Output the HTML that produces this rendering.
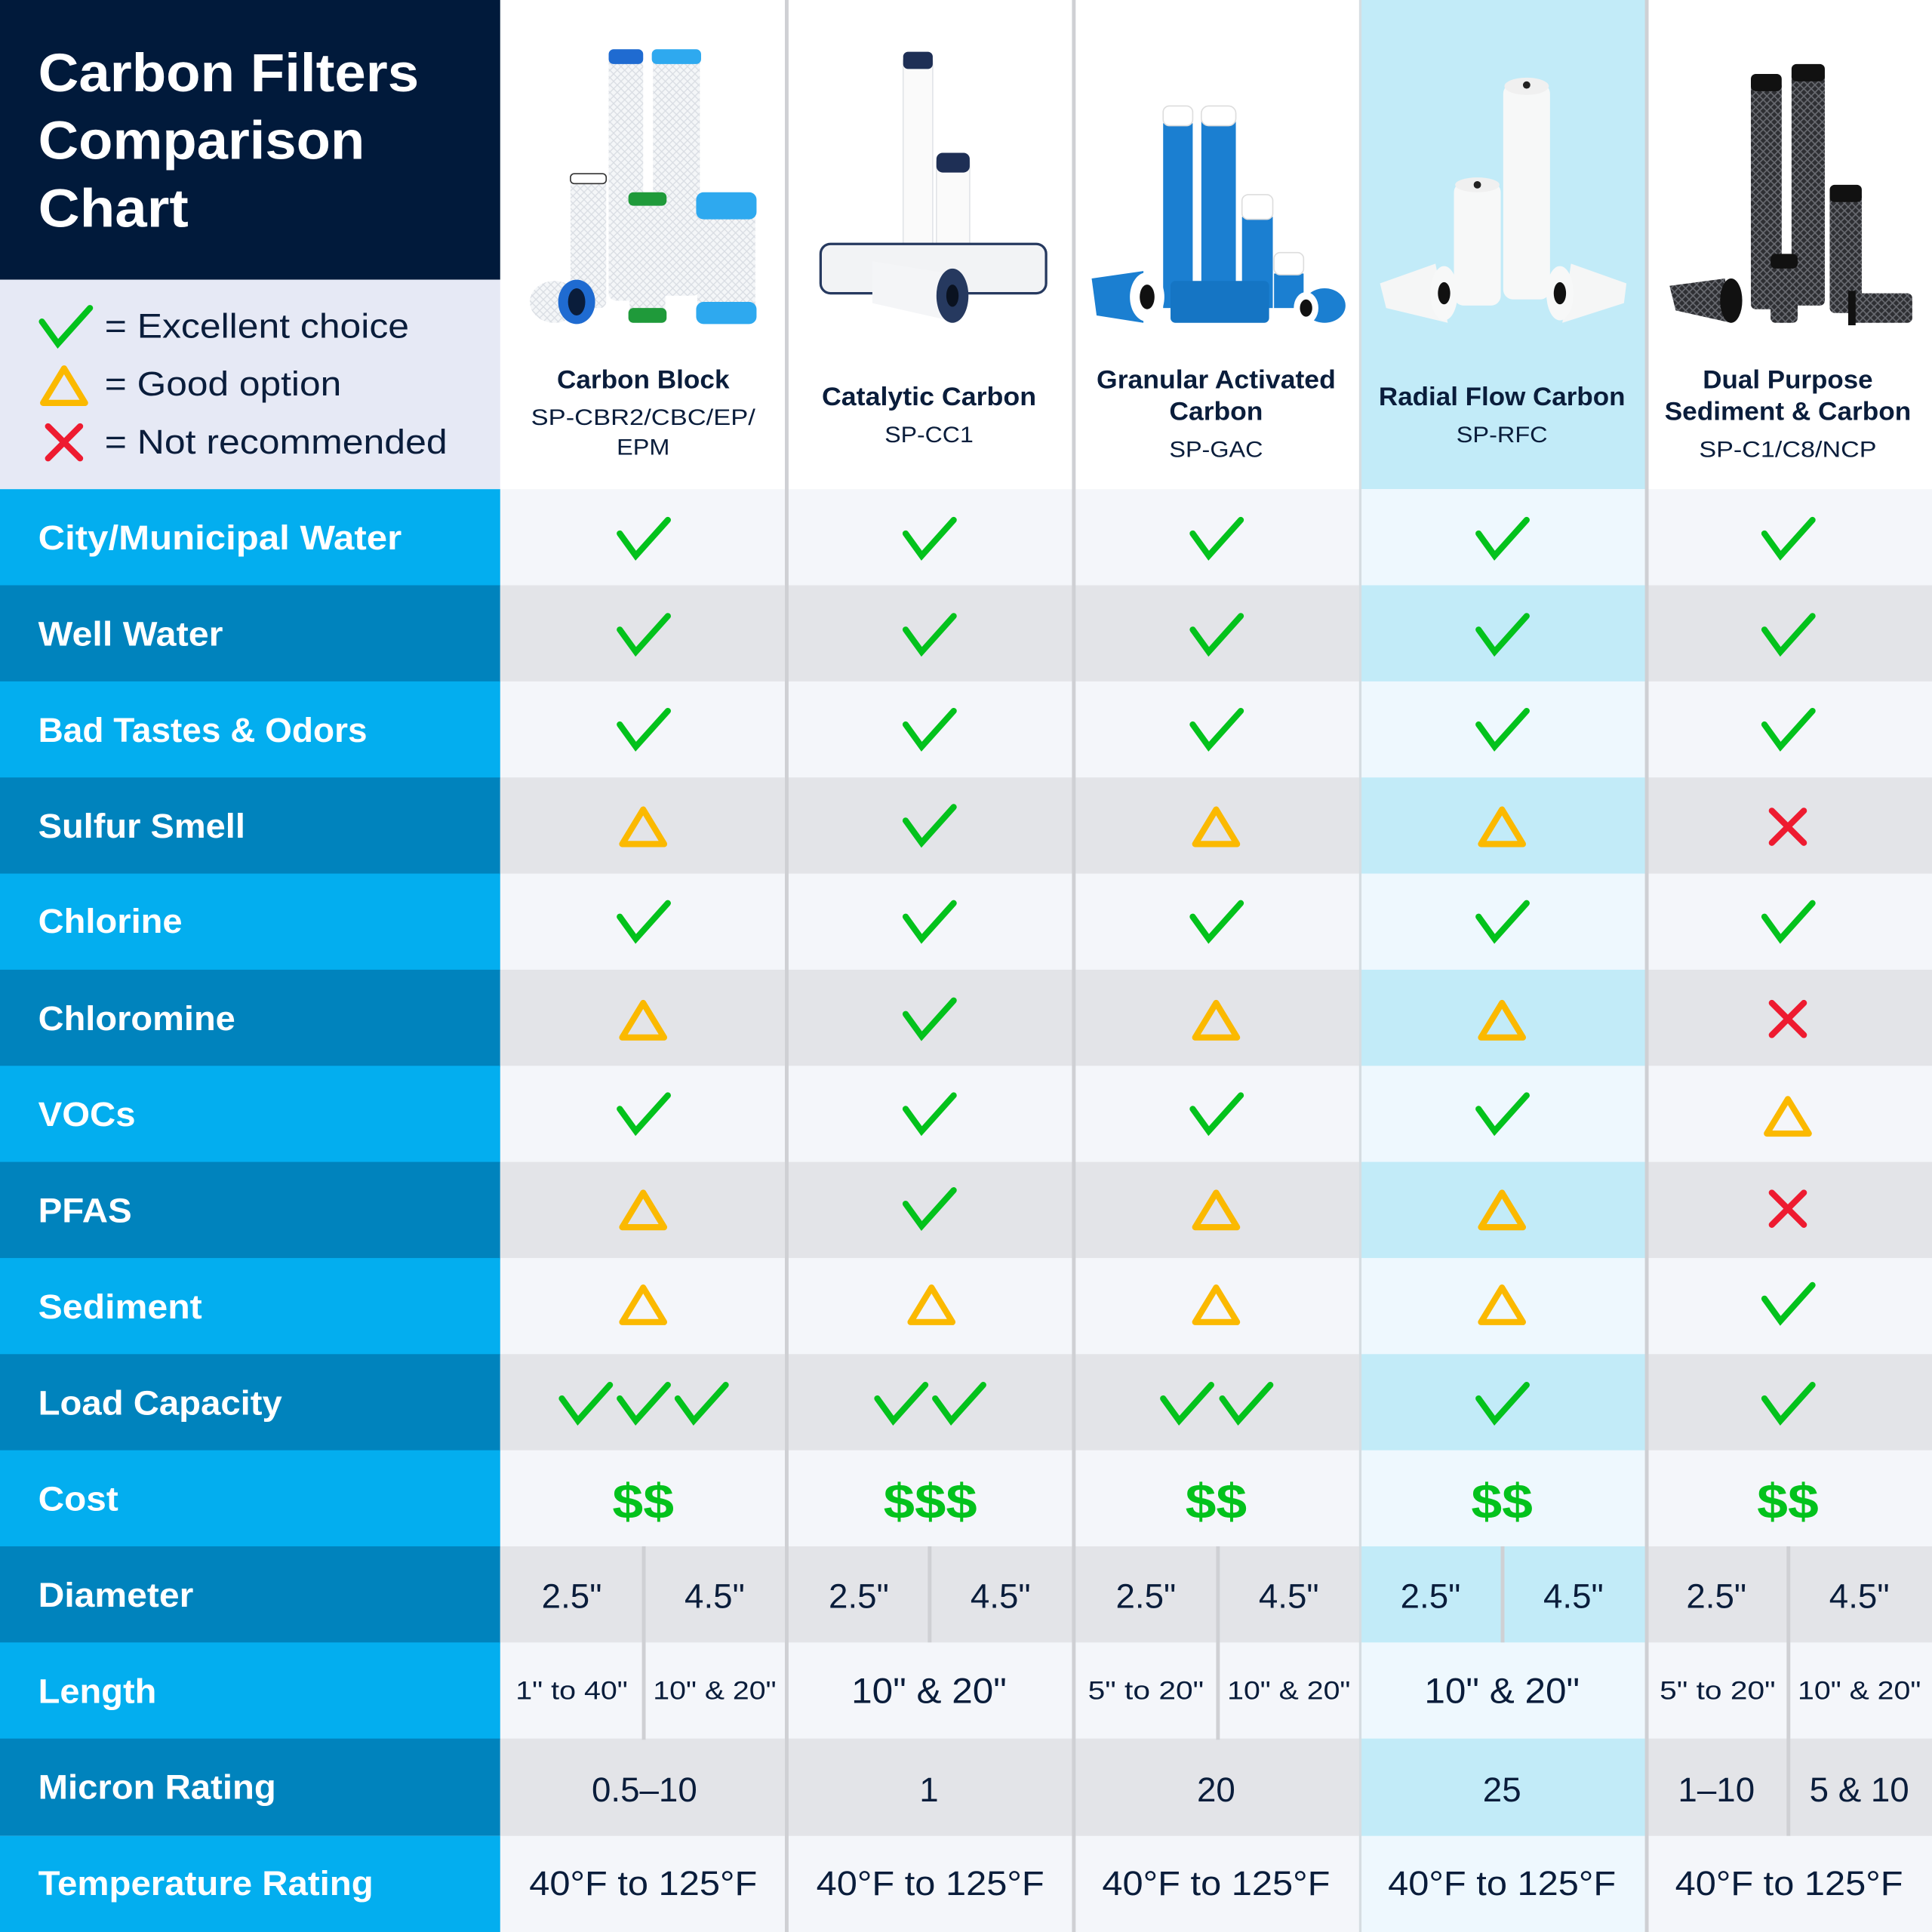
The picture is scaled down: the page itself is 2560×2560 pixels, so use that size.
<!DOCTYPE html>
<html><head><meta charset="utf-8"><style>
html,body{margin:0;padding:0;background:#fff}
svg{display:block}
text{font-family:"Liberation Sans",Arial,sans-serif}
</style></head><body>
<svg width="2560" height="2560" viewBox="0 0 1568 1568" xmlns="http://www.w3.org/2000/svg">
<defs>
<g id="ck"><path d="M-19,-4 L-6,14 L20,-15" fill="none" stroke="#03c21c" stroke-width="5" stroke-linecap="round" stroke-linejoin="miter"/></g>
<g id="tr"><path d="M0,-14 L17,14 L-17,14 Z" fill="none" stroke="#fbb900" stroke-width="5" stroke-linejoin="round"/></g>
<g id="xx"><path d="M-13,-13 L13,13 M13,-13 L-13,13" fill="none" stroke="#ee1b30" stroke-width="5" stroke-linecap="round"/></g>
<pattern id="mesh" width="6" height="6" patternUnits="userSpaceOnUse"><rect width="6" height="6" fill="#2e2f33"/><path d="M0,0 L6,6 M6,0 L0,6" stroke="#6a6c72" stroke-width="1"/></pattern>
<pattern id="wmesh" width="6" height="6" patternUnits="userSpaceOnUse"><rect width="6" height="6" fill="#f4f6f8"/><path d="M0,0 L6,6 M6,0 L0,6" stroke="#d9dde3" stroke-width="0.8"/></pattern>
</defs>

<!-- header -->
<rect x="0" y="0" width="406" height="227" fill="#011a3b"/>
<rect x="0" y="227" width="406" height="170" fill="#e6e9f5"/>
<rect x="406" y="0" width="1162" height="397" fill="#ffffff"/>
<rect x="1104" y="0" width="232" height="397" fill="#c2ebf8"/>
<g fill="#ffffff" font-weight="bold" font-size="44">
<text x="31" y="74" textLength="309" lengthAdjust="spacingAndGlyphs">Carbon Filters</text>
<text x="31" y="129" textLength="265" lengthAdjust="spacingAndGlyphs">Comparison</text>
<text x="31" y="184" textLength="122" lengthAdjust="spacingAndGlyphs">Chart</text>
</g>
<use href="#ck" x="53" y="265"/>
<use href="#tr" x="52" y="313"/>
<use href="#xx" x="52" y="359"/>
<g fill="#0a1d3b" font-size="28">
<text x="85" y="274" textLength="247" lengthAdjust="spacingAndGlyphs">= Excellent choice</text>
<text x="85" y="321" textLength="192" lengthAdjust="spacingAndGlyphs">= Good option</text>
<text x="85" y="368" textLength="278" lengthAdjust="spacingAndGlyphs">= Not recommended</text>
</g>

<!-- column headers -->
<g fill="#0a1d3b" text-anchor="middle">
<g font-weight="bold" font-size="21">
<text x="522" y="315" textLength="140" lengthAdjust="spacingAndGlyphs">Carbon Block</text>
<text x="754" y="329" textLength="174" lengthAdjust="spacingAndGlyphs">Catalytic Carbon</text>
<text x="987" y="315" textLength="194" lengthAdjust="spacingAndGlyphs">Granular Activated</text>
<text x="987" y="341" textLength="76" lengthAdjust="spacingAndGlyphs">Carbon</text>
<text x="1219" y="329" textLength="200" lengthAdjust="spacingAndGlyphs">Radial Flow Carbon</text>
<text x="1451" y="315" textLength="138" lengthAdjust="spacingAndGlyphs">Dual Purpose</text>
<text x="1451" y="341" textLength="200" lengthAdjust="spacingAndGlyphs">Sediment &amp; Carbon</text>
</g>
<g font-size="18">
<text x="522" y="345" textLength="182" lengthAdjust="spacingAndGlyphs">SP-CBR2/CBC/EP/</text>
<text x="522" y="369" textLength="43" lengthAdjust="spacingAndGlyphs">EPM</text>
<text x="754" y="359" textLength="72" lengthAdjust="spacingAndGlyphs">SP-CC1</text>
<text x="987" y="371" textLength="76" lengthAdjust="spacingAndGlyphs">SP-GAC</text>
<text x="1219" y="359" textLength="74" lengthAdjust="spacingAndGlyphs">SP-RFC</text>
<text x="1451" y="371" textLength="144" lengthAdjust="spacingAndGlyphs">SP-C1/C8/NCP</text>
</g>
</g>

<!-- filter illustrations -->
<!-- col1 -->
<g>
<rect x="494" y="44" width="28" height="200" rx="6" fill="url(#wmesh)"/><rect x="494" y="40" width="28" height="12" rx="4" fill="#1f6bd1"/>
<rect x="530" y="44" width="38" height="196" rx="6" fill="url(#wmesh)"/><rect x="529" y="40" width="40" height="12" rx="4" fill="#2ea9ef"/>
<rect x="463" y="145" width="29" height="105" rx="5" fill="url(#wmesh)"/><rect x="463" y="141" width="29" height="8" rx="3" fill="#fff" stroke="#333" stroke-width="1"/>
<rect x="511" y="160" width="29" height="102" rx="5" fill="url(#wmesh)"/><rect x="510" y="156" width="31" height="11" rx="4" fill="#1f9a3a"/><rect x="510" y="250" width="31" height="12" rx="4" fill="#1f9a3a"/>
<rect x="566" y="160" width="47" height="102" rx="6" fill="url(#wmesh)"/><rect x="565" y="156" width="49" height="22" rx="6" fill="#2ea9ef"/><rect x="565" y="245" width="49" height="18" rx="6" fill="#2ea9ef"/>
<ellipse cx="450" cy="245" rx="20" ry="17" fill="url(#wmesh)"/><ellipse cx="468" cy="245" rx="15" ry="18" fill="#1f6bd1"/><ellipse cx="468" cy="245" rx="7" ry="11" fill="#0a1d3b"/>
</g>
<!-- col2 -->
<g>
<rect x="733" y="46" width="24" height="160" rx="4" fill="#fafafa" stroke="#e2e4e8"/><rect x="733" y="42" width="24" height="14" rx="4" fill="#1e2f55"/>
<rect x="760" y="128" width="27" height="80" rx="4" fill="#fafafa" stroke="#e2e4e8"/><rect x="760" y="124" width="27" height="16" rx="5" fill="#1e2f55"/>
<rect x="666" y="198" width="183" height="40" rx="8" fill="#f2f3f5" stroke="#26395f" stroke-width="2"/>
<path d="M708,212 L770,222 L770,260 L708,246 Z" fill="#f4f5f7"/><ellipse cx="773" cy="240" rx="13" ry="22" fill="#26395f"/><ellipse cx="773" cy="240" rx="5" ry="9" fill="#0a1220"/>
</g>
<!-- col3 -->
<g>
<rect x="944" y="100" width="24" height="150" fill="#1b7fd1"/><rect x="944" y="86" width="24" height="16" rx="5" fill="#fff" stroke="#ddd"/>
<rect x="975" y="98" width="28" height="152" fill="#1b7fd1"/><rect x="975" y="86" width="28" height="16" rx="6" fill="#fff" stroke="#ddd"/>
<rect x="1008" y="176" width="25" height="74" fill="#1b7fd1"/><rect x="1008" y="158" width="25" height="20" rx="5" fill="#fff" stroke="#ddd"/>
<rect x="1034" y="222" width="24" height="28" fill="#1b7fd1"/><rect x="1034" y="205" width="24" height="18" rx="5" fill="#fff" stroke="#ddd"/>
<rect x="950" y="228" width="80" height="34" rx="4" fill="#1575c4"/>
<path d="M886,226 L928,220 L928,262 L890,256 Z" fill="#1b7fd1"/><ellipse cx="931" cy="241" rx="14" ry="20" fill="#fff"/><ellipse cx="931" cy="241" rx="6" ry="10" fill="#111"/>
<ellipse cx="1075" cy="248" rx="17" ry="14" fill="#1b7fd1"/><ellipse cx="1060" cy="250" rx="10" ry="13" fill="#fff"/><ellipse cx="1060" cy="250" rx="5" ry="7" fill="#111"/>
</g>
<!-- col4 -->
<g>
<rect x="1220" y="68" width="38" height="175" rx="8" fill="#f7f8f8"/><ellipse cx="1239" cy="70" rx="18" ry="7" fill="#f0f0f0"/><circle cx="1239" cy="69" r="3" fill="#222"/>
<rect x="1180" y="148" width="38" height="100" rx="8" fill="#f7f8f8"/><ellipse cx="1199" cy="150" rx="18" ry="6" fill="#f0f0f0"/><circle cx="1199" cy="150" r="3" fill="#222"/>
<path d="M1120,230 L1165,214 L1175,262 L1125,250 Z" fill="#f5f6f6"/><ellipse cx="1172" cy="238" rx="11" ry="22" fill="#f7f8f8"/><ellipse cx="1172" cy="238" rx="5" ry="9" fill="#111"/>
<path d="M1320,230 L1275,214 L1268,262 L1318,246 Z" fill="#f5f6f6"/><ellipse cx="1266" cy="238" rx="11" ry="22" fill="#f7f8f8"/><ellipse cx="1266" cy="238" rx="5" ry="9" fill="#111"/>
</g>
<!-- col5 -->
<g>
<rect x="1421" y="66" width="25" height="185" rx="4" fill="url(#mesh)"/><rect x="1421" y="60" width="25" height="14" rx="4" fill="#111"/>
<rect x="1454" y="58" width="27" height="190" rx="4" fill="url(#mesh)"/><rect x="1454" y="52" width="27" height="14" rx="4" fill="#111"/>
<rect x="1485" y="156" width="26" height="98" rx="4" fill="url(#mesh)"/><rect x="1485" y="150" width="26" height="14" rx="4" fill="#111"/>
<rect x="1437" y="212" width="22" height="50" rx="4" fill="url(#mesh)"/><rect x="1437" y="206" width="22" height="12" rx="4" fill="#111"/>
<path d="M1355,232 L1400,226 L1405,262 L1360,252 Z" fill="url(#mesh)"/><ellipse cx="1405" cy="244" rx="9" ry="18" fill="#111"/>
<rect x="1502" y="238" width="50" height="24" rx="4" fill="url(#mesh)"/><rect x="1500" y="236" width="6" height="28" fill="#111"/>
</g>

<!-- row backgrounds -->
<g id="rows">
<rect x="0" y="397" width="406" height="79" fill="#03aeef"/>
<rect x="0" y="475" width="406" height="79" fill="#0083bd"/>
<rect x="0" y="553" width="406" height="79" fill="#03aeef"/>
<rect x="0" y="631" width="406" height="79" fill="#0083bd"/>
<rect x="0" y="709" width="406" height="79" fill="#03aeef"/>
<rect x="0" y="787" width="406" height="79" fill="#0083bd"/>
<rect x="0" y="865" width="406" height="79" fill="#03aeef"/>
<rect x="0" y="943" width="406" height="79" fill="#0083bd"/>
<rect x="0" y="1021" width="406" height="79" fill="#03aeef"/>
<rect x="0" y="1099" width="406" height="79" fill="#0083bd"/>
<rect x="0" y="1177" width="406" height="79" fill="#03aeef"/>
<rect x="0" y="1255" width="406" height="79" fill="#0083bd"/>
<rect x="0" y="1333" width="406" height="79" fill="#03aeef"/>
<rect x="0" y="1411" width="406" height="79" fill="#0083bd"/>
<rect x="0" y="1490" width="406" height="78" fill="#03aeef"/>

<rect x="406" y="397" width="1162" height="1171" fill="#f4f6fa"/>
<rect x="406" y="475" width="1162" height="78" fill="#e3e4e8"/>
<rect x="406" y="631" width="1162" height="78" fill="#e3e4e8"/>
<rect x="406" y="787" width="1162" height="78" fill="#e3e4e8"/>
<rect x="406" y="943" width="1162" height="78" fill="#e3e4e8"/>
<rect x="406" y="1099" width="1162" height="78" fill="#e3e4e8"/>
<rect x="406" y="1255" width="1162" height="78" fill="#e3e4e8"/>
<rect x="406" y="1411" width="1162" height="79" fill="#e3e4e8"/>

<rect x="1104" y="397" width="232" height="1171" fill="#eef8fe"/>
<rect x="1104" y="475" width="232" height="78" fill="#c2ebf8"/>
<rect x="1104" y="631" width="232" height="78" fill="#c2ebf8"/>
<rect x="1104" y="787" width="232" height="78" fill="#c2ebf8"/>
<rect x="1104" y="943" width="232" height="78" fill="#c2ebf8"/>
<rect x="1104" y="1099" width="232" height="78" fill="#c2ebf8"/>
<rect x="1104" y="1255" width="232" height="78" fill="#c2ebf8"/>
<rect x="1104" y="1411" width="232" height="79" fill="#c2ebf8"/>
</g>

<!-- dividers -->
<g fill="#cfd0d4">
<rect x="637" y="0" width="3" height="1568"/>
<rect x="870" y="0" width="3" height="1568"/>
<rect x="1103" y="0" width="2" height="1568" fill="#d6dde2"/>
<rect x="1335" y="0" width="3" height="1568"/>
<rect x="521" y="1255" width="3" height="157"/>
<rect x="753" y="1255" width="3" height="78"/>
<rect x="987" y="1255" width="3" height="157"/>
<rect x="1218" y="1255" width="3" height="78"/>
<rect x="1450" y="1255" width="3" height="235"/>
</g>

<!-- row labels -->
<g fill="#ffffff" font-weight="bold" font-size="28">
<text x="31" y="446" textLength="295" lengthAdjust="spacingAndGlyphs">City/Municipal Water</text>
<text x="31" y="524" textLength="150" lengthAdjust="spacingAndGlyphs">Well Water</text>
<text x="31" y="602" textLength="267" lengthAdjust="spacingAndGlyphs">Bad Tastes &amp; Odors</text>
<text x="31" y="680" textLength="168" lengthAdjust="spacingAndGlyphs">Sulfur Smell</text>
<text x="31" y="757" textLength="117" lengthAdjust="spacingAndGlyphs">Chlorine</text>
<text x="31" y="836" textLength="160" lengthAdjust="spacingAndGlyphs">Chloromine</text>
<text x="31" y="914" textLength="79" lengthAdjust="spacingAndGlyphs">VOCs</text>
<text x="31" y="992" textLength="76" lengthAdjust="spacingAndGlyphs">PFAS</text>
<text x="31" y="1070" textLength="133" lengthAdjust="spacingAndGlyphs">Sediment</text>
<text x="31" y="1148" textLength="198" lengthAdjust="spacingAndGlyphs">Load Capacity</text>
<text x="31" y="1226" textLength="65" lengthAdjust="spacingAndGlyphs">Cost</text>
<text x="31" y="1304" textLength="126" lengthAdjust="spacingAndGlyphs">Diameter</text>
<text x="31" y="1382" textLength="96" lengthAdjust="spacingAndGlyphs">Length</text>
<text x="31" y="1460" textLength="193" lengthAdjust="spacingAndGlyphs">Micron Rating</text>
<text x="31" y="1538" textLength="272" lengthAdjust="spacingAndGlyphs">Temperature Rating</text>
</g>

<!-- symbols -->
<!-- row0-2 all checks -->
<use href="#ck" x="522" y="437"/><use href="#ck" x="754" y="437"/><use href="#ck" x="987" y="437"/><use href="#ck" x="1219" y="437"/><use href="#ck" x="1451" y="437"/>
<use href="#ck" x="522" y="515"/><use href="#ck" x="754" y="515"/><use href="#ck" x="987" y="515"/><use href="#ck" x="1219" y="515"/><use href="#ck" x="1451" y="515"/>
<use href="#ck" x="522" y="592"/><use href="#ck" x="754" y="592"/><use href="#ck" x="987" y="592"/><use href="#ck" x="1219" y="592"/><use href="#ck" x="1451" y="592"/>
<!-- sulfur -->
<use href="#tr" x="522" y="671"/><use href="#ck" x="754" y="670"/><use href="#tr" x="987" y="671"/><use href="#tr" x="1219" y="671"/><use href="#xx" x="1451" y="671"/>
<!-- chlorine -->
<use href="#ck" x="522" y="748"/><use href="#ck" x="754" y="748"/><use href="#ck" x="987" y="748"/><use href="#ck" x="1219" y="748"/><use href="#ck" x="1451" y="748"/>
<!-- chloromine -->
<use href="#tr" x="522" y="828"/><use href="#ck" x="754" y="827"/><use href="#tr" x="987" y="828"/><use href="#tr" x="1219" y="828"/><use href="#xx" x="1451" y="827"/>
<!-- VOCs -->
<use href="#ck" x="522" y="904"/><use href="#ck" x="754" y="904"/><use href="#ck" x="987" y="904"/><use href="#ck" x="1219" y="904"/><use href="#tr" x="1451" y="906"/>
<!-- PFAS -->
<use href="#tr" x="522" y="982"/><use href="#ck" x="754" y="981"/><use href="#tr" x="987" y="982"/><use href="#tr" x="1219" y="982"/><use href="#xx" x="1451" y="981"/>
<!-- sediment -->
<use href="#tr" x="522" y="1059"/><use href="#tr" x="756" y="1059"/><use href="#tr" x="987" y="1059"/><use href="#tr" x="1219" y="1059"/><use href="#ck" x="1451" y="1058"/>
<!-- load -->
<use href="#ck" x="475" y="1139"/><use href="#ck" x="522" y="1139"/><use href="#ck" x="569" y="1139"/>
<use href="#ck" x="731" y="1139"/><use href="#ck" x="778" y="1139"/>
<use href="#ck" x="963" y="1139"/><use href="#ck" x="1011" y="1139"/>
<use href="#ck" x="1219" y="1139"/><use href="#ck" x="1451" y="1139"/>
<!-- cost -->
<g fill="#03c21c" font-weight="bold" font-size="40" text-anchor="middle">
<text x="522" y="1232" textLength="50" lengthAdjust="spacingAndGlyphs">$$</text>
<text x="755" y="1232" textLength="76" lengthAdjust="spacingAndGlyphs">$$$</text>
<text x="987" y="1232" textLength="50" lengthAdjust="spacingAndGlyphs">$$</text>
<text x="1219" y="1232" textLength="50" lengthAdjust="spacingAndGlyphs">$$</text>
<text x="1451" y="1232" textLength="50" lengthAdjust="spacingAndGlyphs">$$</text>
</g>

<!-- data text -->
<g fill="#0a1d3b" text-anchor="middle" font-size="28">
<text x="464" y="1305">2.5"</text><text x="580" y="1305">4.5"</text>
<text x="697" y="1305">2.5"</text><text x="812" y="1305">4.5"</text>
<text x="930" y="1305">2.5"</text><text x="1046" y="1305">4.5"</text>
<text x="1161" y="1305">2.5"</text><text x="1277" y="1305">4.5"</text>
<text x="1393" y="1305">2.5"</text><text x="1509" y="1305">4.5"</text>

<text x="754" y="1382" font-size="29" textLength="126" lengthAdjust="spacingAndGlyphs">10" &amp; 20"</text>
<text x="1219" y="1382" font-size="29" textLength="126" lengthAdjust="spacingAndGlyphs">10" &amp; 20"</text>
<g font-size="21">
<text x="464" y="1379" textLength="91" lengthAdjust="spacingAndGlyphs">1" to 40"</text>
<text x="580" y="1379" textLength="100" lengthAdjust="spacingAndGlyphs">10" &amp; 20"</text>
<text x="930" y="1379" textLength="94" lengthAdjust="spacingAndGlyphs">5" to 20"</text>
<text x="1046" y="1379" textLength="100" lengthAdjust="spacingAndGlyphs">10" &amp; 20"</text>
<text x="1394" y="1379" textLength="94" lengthAdjust="spacingAndGlyphs">5" to 20"</text>
<text x="1509" y="1379" textLength="100" lengthAdjust="spacingAndGlyphs">10" &amp; 20"</text>
</g>

<text x="523" y="1462">0.5–10</text>
<text x="754" y="1462">1</text>
<text x="987" y="1462">20</text>
<text x="1219" y="1462">25</text>
<text x="1393" y="1462">1–10</text>
<text x="1509" y="1462">5 &amp; 10</text>

<text x="522" y="1538" textLength="185" lengthAdjust="spacingAndGlyphs">40°F to 125°F</text>
<text x="755" y="1538" textLength="185" lengthAdjust="spacingAndGlyphs">40°F to 125°F</text>
<text x="987" y="1538" textLength="185" lengthAdjust="spacingAndGlyphs">40°F to 125°F</text>
<text x="1219" y="1538" textLength="185" lengthAdjust="spacingAndGlyphs">40°F to 125°F</text>
<text x="1452" y="1538" textLength="185" lengthAdjust="spacingAndGlyphs">40°F to 125°F</text>
</g>
</svg>
</body></html>
